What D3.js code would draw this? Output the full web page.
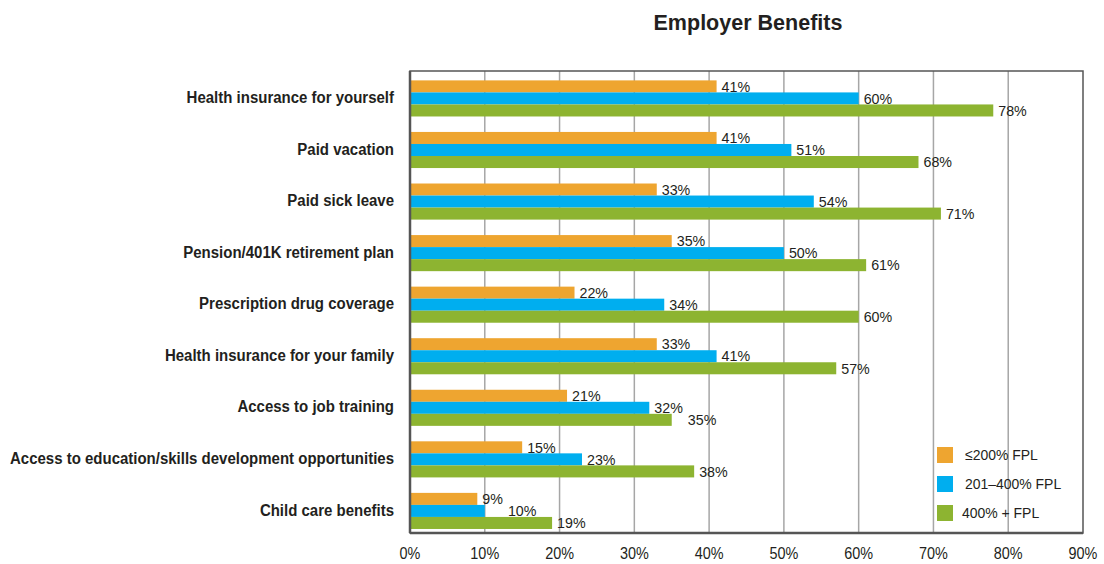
<!DOCTYPE html>
<html>
<head>
<meta charset="utf-8">
<script src="https://cdn.jsdelivr.net/npm/d3@7"></script>
<style>
  body { margin: 0; background: #fff; }
  text { font-family: "Liberation Sans", Arial, sans-serif; fill: #231f20; }
</style>
</head>
<body>
<svg width="1104" height="564"></svg>
<script>
const categories = [
  "Health insurance for yourself",
  "Paid vacation",
  "Paid sick leave",
  "Pension/401K retirement plan",
  "Prescription drug coverage",
  "Health insurance for your family",
  "Access to job training",
  "Access to education/skills development opportunities",
  "Child care benefits"
];
const seriesNames = ["≤200% FPL", "201–400% FPL", "400% + FPL"];
const low = [41, 41, 33, 35, 22, 33, 21, 15, 9];
const mid = [60, 51, 54, 50, 34, 41, 32, 23, 10];
const high = [78, 68, 71, 61, 60, 57, 35, 38, 19];
const xTicks = [0, 10, 20, 30, 40, 50, 60, 70, 80, 90];
const colors = ["#eea530", "#00aeef", "#8db431"];

const series = [low, mid, high];

const margin = { top: 71, right: 21, bottom: 31, left: 410 };
const width = 1104 - margin.left - margin.right;
const height = 564 - margin.top - margin.bottom;

const svg = d3.select("svg");

// squeeze text horizontally to mimic the condensed face of the original
function condense(sel, k) {
  sel.each(function() {
    const w = this.getComputedTextLength();
    d3.select(this)
      .attr("textLength", w * k)
      .attr("lengthAdjust", "spacingAndGlyphs");
  });
}

const title = svg.append("text")
  .attr("x", 748)
  .attr("y", 30)
  .attr("text-anchor", "middle")
  .style("font-weight", "bold")
  .style("font-size", "22px")
  .text("Employer Benefits");
condense(title, 189 / title.node().getComputedTextLength());

const g = svg.append("g")
  .attr("transform", `translate(${margin.left},${margin.top})`);

const x = d3.scaleLinear().domain([0, 90]).range([0, width]);

const y = d3.scaleBand()
  .domain(categories)
  .range([0, height])
  .paddingInner(0.3)
  .paddingOuter(0.13)
  .align(0.7);

const y1 = d3.scaleBand()
  .domain(d3.range(series.length))
  .range([0, y.bandwidth()]);

// gridlines
g.selectAll(".grid")
  .data(xTicks.slice(1, -1))
  .join("line")
  .attr("x1", d => x(d))
  .attr("x2", d => x(d))
  .attr("y1", 0)
  .attr("y2", height)
  .attr("stroke", "#a6a6a6")
  .attr("stroke-width", 1.5);

// bars + value labels
categories.forEach((c, i) => {
  const grp = g.append("g").attr("transform", `translate(0,${y(c)})`);
  let prevEnd = -Infinity;
  series.forEach((s, k) => {
    grp.append("rect")
      .attr("x", 0)
      .attr("y", y1(k))
      .attr("width", x(s[i]))
      .attr("height", y1.bandwidth())
      .attr("fill", colors[k]);
    let lx = x(s[i]) + 5;
    if (lx < prevEnd + 5) lx = prevEnd + 5;
    const t = grp.append("text")
      .attr("x", lx)
      .attr("y", y1(k) + y1.bandwidth() / 2)
      .attr("dy", "0.35em")
      .style("font-size", "15px")
      .text(s[i] + "%");
    condense(t, 0.95);
    prevEnd = lx + t.node().getComputedTextLength();
  });
});

// frame
g.append("rect")
  .attr("width", width)
  .attr("height", height)
  .attr("fill", "none")
  .attr("stroke", "#555")
  .attr("stroke-width", 1.5);

g.append("line")
  .attr("x1", 0).attr("x2", width)
  .attr("y1", height).attr("y2", height)
  .attr("stroke", "#555").attr("stroke-width", 2.5);
g.append("line")
  .attr("x1", 0).attr("x2", 0)
  .attr("y1", 0).attr("y2", height)
  .attr("stroke", "#555").attr("stroke-width", 2.5);

// category labels
const cats = g.selectAll(".cat")
  .data(categories)
  .join("text")
  .attr("x", -16)
  .attr("y", d => y(d) + y.bandwidth() / 2 - 1)
  .attr("dy", "0.35em")
  .attr("text-anchor", "end")
  .style("font-weight", "bold")
  .style("font-size", "16px")
  .text(d => d);
const longest = d3.max(cats.nodes(), n => n.getComputedTextLength());
condense(cats, 384 / longest);

// x tick labels
const ticks = g.selectAll(".tick-label")
  .data(xTicks)
  .join("text")
  .attr("x", d => x(d))
  .attr("y", height + 26)
  .attr("text-anchor", "middle")
  .style("font-size", "16px")
  .text(d => d + "%");
condense(ticks, 0.9);

// legend
const legend = g.append("g").attr("transform", `translate(${937 - margin.left},${447 - margin.top})`);
seriesNames.forEach((name, k) => {
  legend.append("rect")
    .attr("x", 0)
    .attr("y", k * 29)
    .attr("width", 16)
    .attr("height", 16)
    .attr("fill", colors[k]);
  const t = legend.append("text")
    .attr("x", k === 2 ? 25 : 28)
    .attr("y", k * 29 + 8)
    .attr("dy", "0.35em")
    .style("font-size", "15.5px")
    .text(name);
  condense(t, 0.9);
});
</script>
</body>
</html>
